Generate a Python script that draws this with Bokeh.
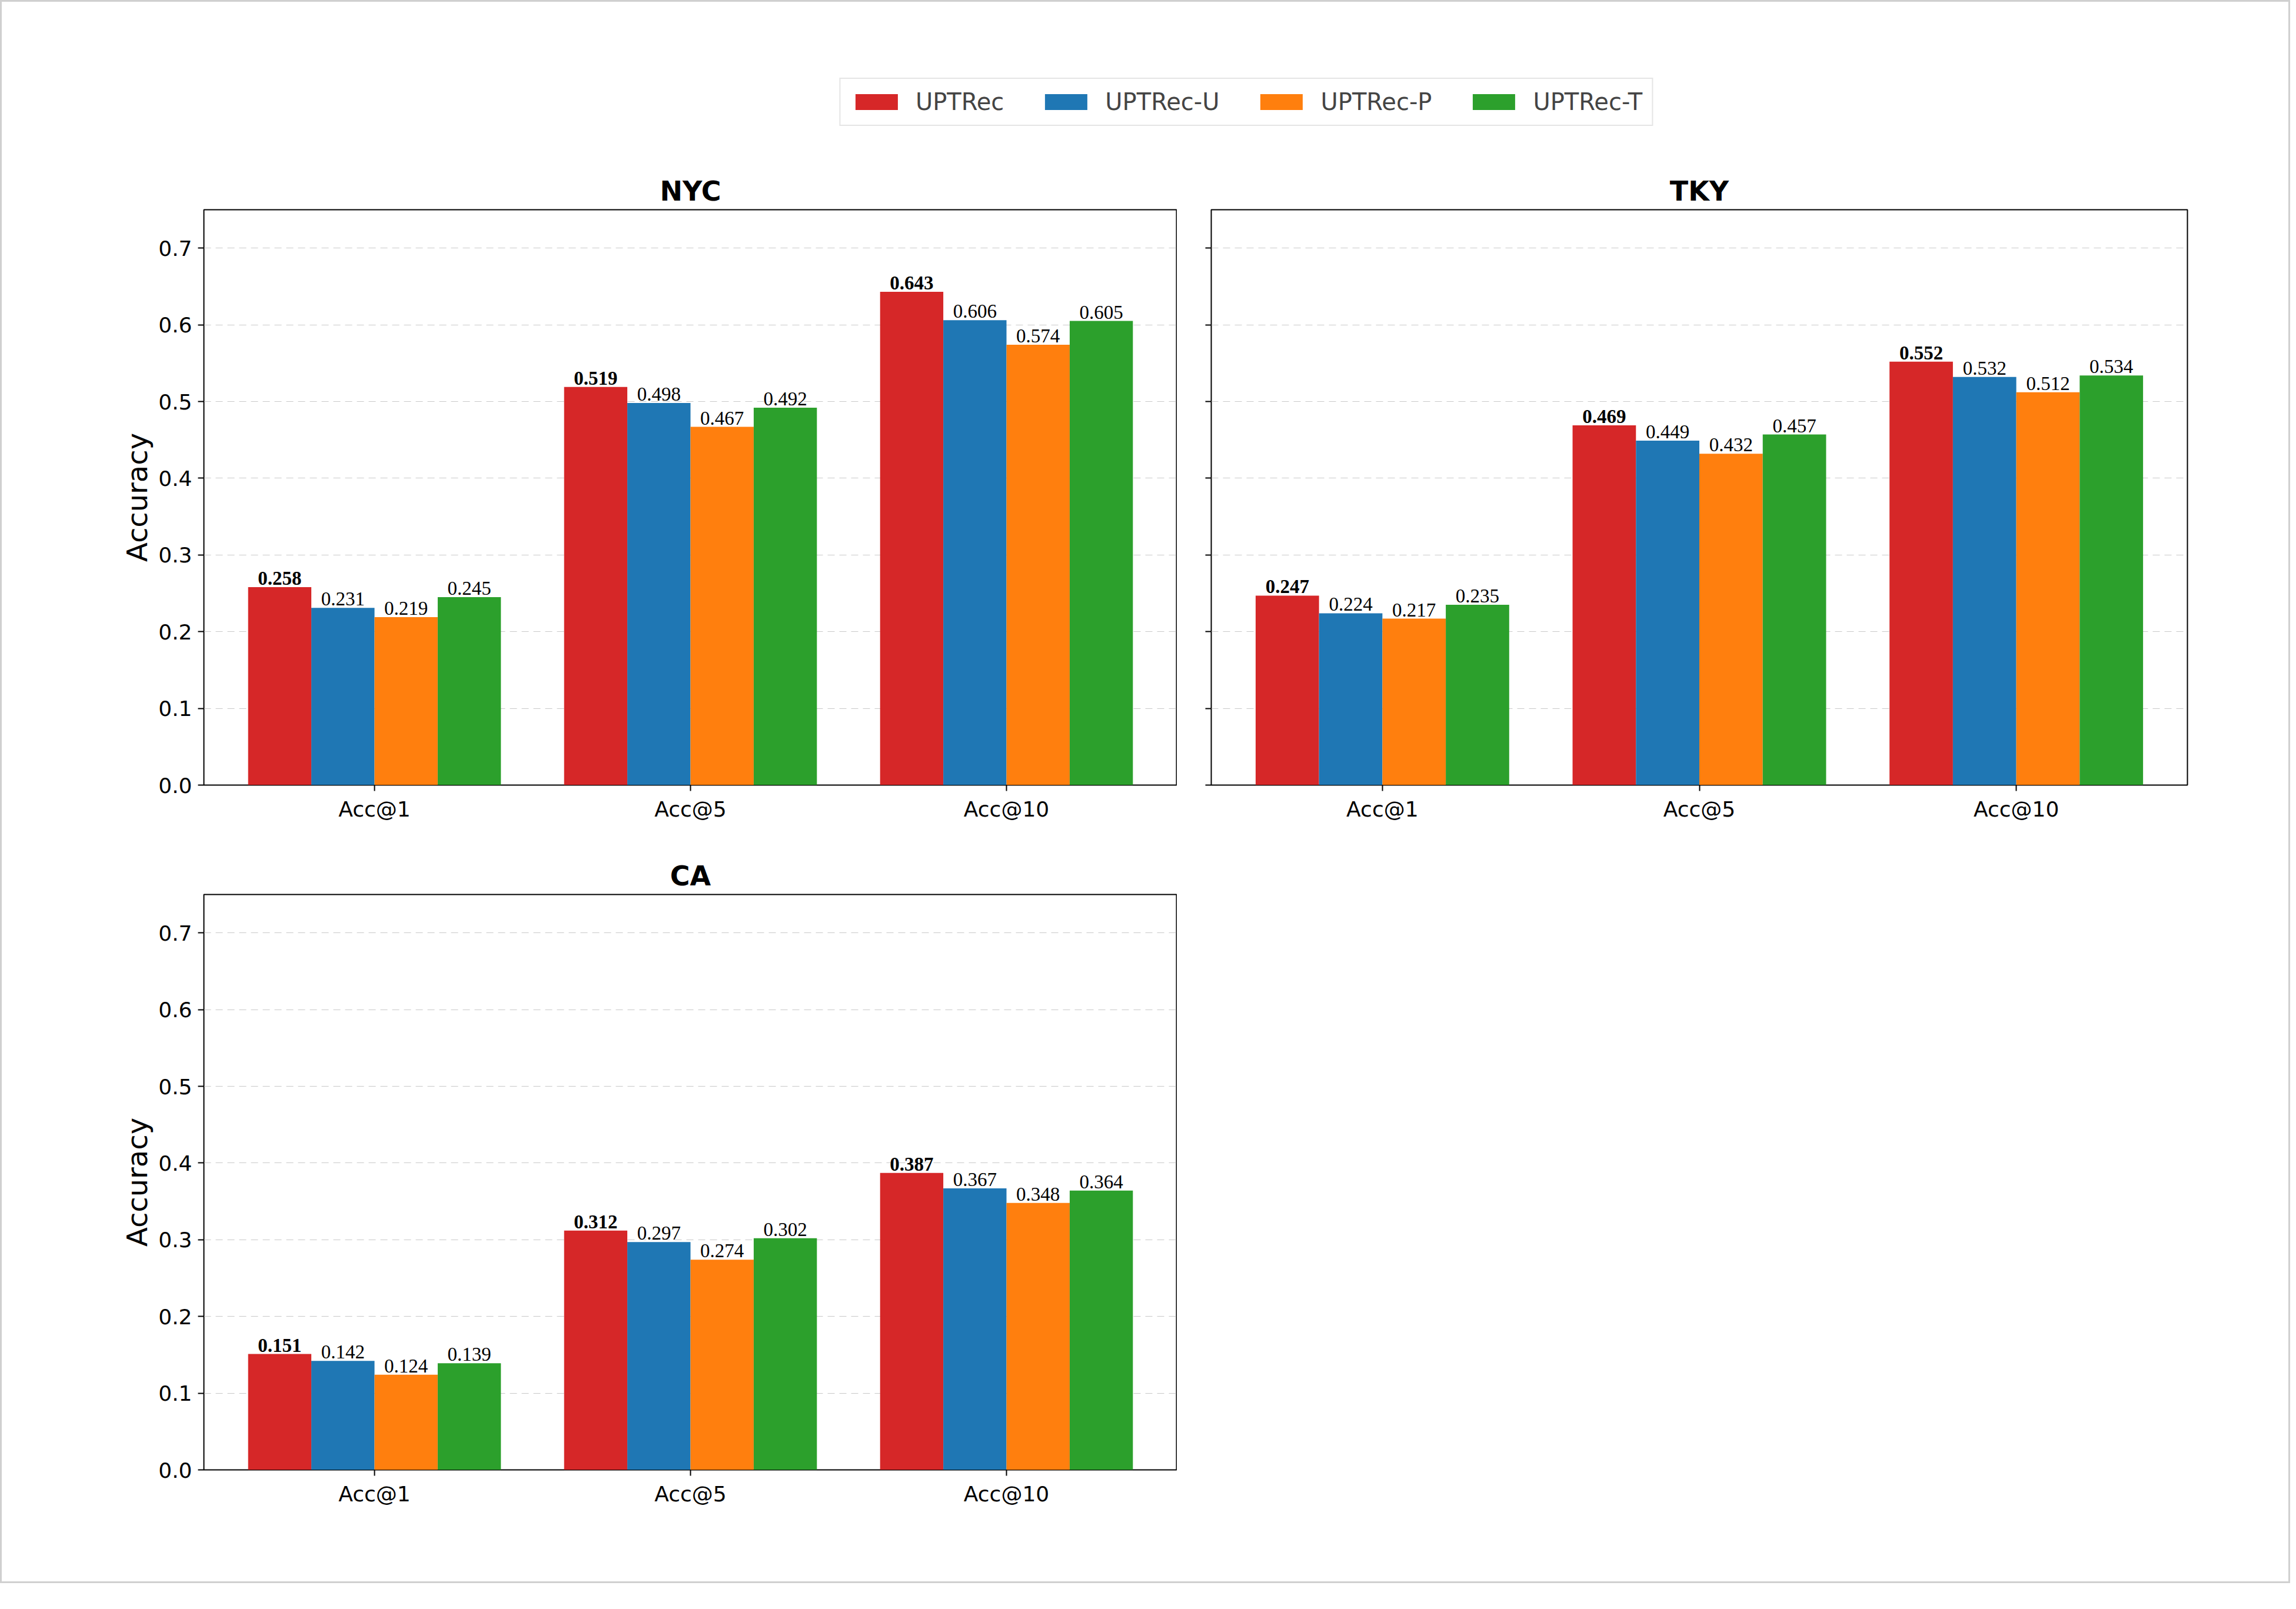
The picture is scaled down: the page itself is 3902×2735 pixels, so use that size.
from bokeh.plotting import figure
from bokeh.layouts import column, row
from bokeh.models import (Legend, LegendItem, FixedTicker, Range1d, ColumnDataSource,
                          NumeralTickFormatter, CustomJSTickFormatter)
from bokeh.embed import file_html
from bokeh.resources import INLINE

categories = ["Acc@1", "Acc@5", "Acc@10"]
series = ["UPTRec", "UPTRec-U", "UPTRec-P", "UPTRec-T"]
colors = ["#d62728", "#1f77b4", "#ff7f0e", "#2ca02c"]
nyc = {"UPTRec": [0.258, 0.519, 0.643], "UPTRec-U": [0.231, 0.498, 0.606],
       "UPTRec-P": [0.219, 0.467, 0.574], "UPTRec-T": [0.245, 0.492, 0.605]}
tky = {"UPTRec": [0.247, 0.469, 0.552], "UPTRec-U": [0.224, 0.449, 0.532],
       "UPTRec-P": [0.217, 0.432, 0.512], "UPTRec-T": [0.235, 0.457, 0.534]}
ca = {"UPTRec": [0.151, 0.312, 0.387], "UPTRec-U": [0.142, 0.297, 0.367],
      "UPTRec-P": [0.124, 0.274, 0.348], "UPTRec-T": [0.139, 0.302, 0.364]}
offsets = [-0.3, -0.1, 0.1, 0.3]
FONT = "DejaVu Sans"

def panel(title, data, bl, br, bt, bb, ylabel=True, frame_w=1654, frame_h=978):
    p = figure(width=bl + frame_w + br, height=bt + frame_h + bb, output_backend="svg",
               toolbar_location=None, x_range=Range1d(-0.54, 2.54), y_range=Range1d(0, 0.75),
               min_border_left=bl, min_border_right=br, min_border_top=bt, min_border_bottom=bb)
    p.title.text = title
    p.title.align = "center"
    p.title.text_font = FONT
    p.title.text_font_size = "46px"
    p.title.text_font_style = "bold"
    p.title.text_color = "black"
    p.outline_line_color = "black"
    p.outline_line_width = 2
    p.outline_line_alpha = 1
    p.xgrid.visible = False
    p.ygrid.grid_line_dash = "12 8"
    p.ygrid.grid_line_color = "#bbbbbb"
    p.ygrid.grid_line_alpha = 0.8
    p.xaxis.ticker = FixedTicker(ticks=[0, 1, 2])
    p.xaxis.major_label_overrides = {0: categories[0], 1: categories[1], 2: categories[2]}
    p.yaxis.ticker = FixedTicker(ticks=[0, 0.1, 0.2, 0.3, 0.4, 0.5, 0.6, 0.7])
    for ax in (p.xaxis[0], p.yaxis[0]):
        ax.major_label_text_font = FONT
        ax.major_label_text_font_size = "36px"
        ax.major_label_text_color = "black"
        ax.axis_line_color = None
        ax.minor_tick_line_color = None
        ax.major_tick_in = 0
        ax.major_tick_out = 10
        ax.major_tick_line_width = 2
        ax.major_tick_line_color = "black"
        ax.major_label_standoff = 10
    if ylabel:
        p.yaxis.formatter = NumeralTickFormatter(format="0.0")
        p.yaxis.axis_label = "Accuracy"
        p.yaxis.axis_label_text_font = FONT
        p.yaxis.axis_label_text_font_size = "48px"
        p.yaxis.axis_label_text_font_style = "normal"
        p.yaxis.axis_label_text_color = "black"
    else:
        p.yaxis.formatter = CustomJSTickFormatter(code="return ''")
    for s, c, o in zip(series, colors, offsets):
        xs = [i + o for i in range(3)]
        src = ColumnDataSource(dict(x=xs, top=data[s], lab=["%.3f" % v for v in data[s]]))
        p.vbar(x="x", top="top", width=0.2, color=c, line_color=None, source=src)
        p.text(x="x", y="top", text="lab", source=src, text_align="center",
               text_baseline="bottom", y_offset=-4, text_font=FONT, text_font_size="33px",
               text_font_style="bold" if s == "UPTRec" else "normal", text_color="black")
    return p

leg = figure(width=3886, height=250, output_backend="svg", toolbar_location=None,
             x_range=Range1d(0, 1), y_range=Range1d(0, 1), min_border=0)
leg.axis.visible = False
leg.grid.visible = False
leg.outline_line_color = None
items = []
for s, c in zip(series, colors):
    r = leg.vbar(x=[-10], top=[-5], bottom=[-6], width=0.1, color=c, line_color=None)
    items.append(LegendItem(label=s, renderers=[r]))
legend = Legend(items=items, orientation="horizontal", location="top_center", margin=129,
                label_text_font=FONT, label_text_font_size="40px", glyph_width=90,
                glyph_height=34, spacing=60, padding=16, label_standoff=22,
                border_line_color="#cccccc", border_line_width=2)
leg.add_layout(legend)

p1 = panel("NYC", nyc, 343, 0, 103, 100)
p2 = panel("TKY", tky, 58, 156, 103, 100, ylabel=False, frame_w=1659)
p3 = panel("CA", ca, 343, 0, 86, 190)

layout = column(leg, row(p1, p2), p3, styles={"border": "3px solid #d0d0d0"})
open("out.html", "w").write(file_html(layout, INLINE))
